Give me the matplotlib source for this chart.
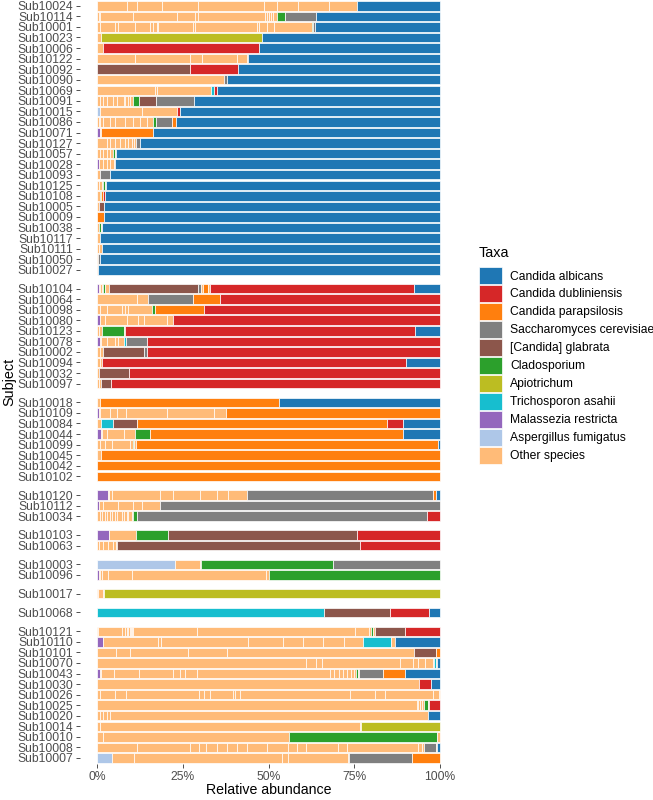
import matplotlib.pyplot as plt
from matplotlib.patches import Patch

plt.rcParams['font.family'] = ['Liberation Sans', 'DejaVu Sans']

taxa_codes = ['alb', 'dub', 'par', 'sac', 'gla', 'cla', 'api', 'tri', 'mal', 'asp', 'oth']
taxa_names = ['Candida albicans', 'Candida dubliniensis', 'Candida parapsilosis',
              'Saccharomyces cerevisiae', '[Candida] glabrata', 'Cladosporium',
              'Apiotrichum', 'Trichosporon asahii', 'Malassezia restricta',
              'Aspergillus fumigatus', 'Other species']
taxa_colors = ['#1F77B4', '#D62728', '#FF7F0E', '#7F7F7F', '#8C564B', '#2CA02C',
               '#BCBD22', '#17BECF', '#9467BD', '#AEC7E8', '#FFBB78']

# segments left -> right, values in % ("oth" = single species lumped as Other species)
group_albicans = [
    ('Sub10024', [('oth', 8.8), ('oth', 2.9), ('oth', 7.3), ('oth', 10.5), ('oth', 19.1), ('oth', 3.9),
                  ('oth', 6.1), ('oth', 9.0), ('oth', 8.1), ('alb', 24.3)]),
    ('Sub10114', [('oth', 0.6), ('oth', 0.3), ('oth', 9.7), ('oth', 12.7), ('oth', 5.3), ('oth', 0.9),
                  ('oth', 19.5), ('oth', 0.6), ('oth', 0.6), ('oth', 0.6), ('oth', 0.6), ('oth', 1.1),
                  ('cla', 2.3), ('sac', 9.0), ('alb', 36.2)]),
    ('Sub10001', [('oth', 0.9), ('oth', 4.4), ('oth', 0.9), ('oth', 4.9), ('oth', 4.4), ('oth', 0.9),
                  ('oth', 1.0), ('oth', 0.5), ('oth', 10.2), ('oth', 0.5), ('oth', 18.0), ('oth', 0.5),
                  ('oth', 2.4), ('oth', 2.0), ('oth', 11.1), ('cla', 0.5), ('sac', 0.6), ('alb', 36.3)]),
    ('Sub10023', [('oth', 1.1), ('api', 46.9), ('alb', 52.0)]),
    ('Sub10006', [('oth', 1.7), ('dub', 45.6), ('alb', 52.7)]),
    ('Sub10122', [('oth', 11.1), ('oth', 16.0), ('oth', 3.4), ('oth', 10.2), ('oth', 2.9), ('oth', 0.5),
                  ('alb', 55.9)]),
    ('Sub10092', [('gla', 27.0), ('dub', 14.0), ('alb', 59.0)]),
    ('Sub10090', [('oth', 37.0), ('sac', 0.9), ('alb', 62.1)]),
    ('Sub10069', [('oth', 16.9), ('oth', 0.5), ('oth', 15.8), ('tri', 0.9), ('dub', 0.9), ('alb', 65.0)]),
    ('Sub10091', [('oth', 0.9), ('oth', 0.9), ('oth', 1.0), ('oth', 1.9), ('oth', 1.0), ('oth', 2.0),
                  ('oth', 0.5), ('oth', 0.8), ('oth', 0.6), ('oth', 0.8), ('cla', 1.8), ('gla', 4.9),
                  ('sac', 11.2), ('alb', 71.7)]),
    ('Sub10015', [('asp', 0.8), ('oth', 12.2), ('oth', 10.2), ('dub', 0.9), ('alb', 75.9)]),
    ('Sub10086', [('oth', 0.4), ('oth', 0.5), ('oth', 0.9), ('oth', 2.0), ('oth', 1.4), ('oth', 3.0),
                  ('oth', 2.4), ('oth', 1.9), ('oth', 2.0), ('oth', 1.9), ('cla', 0.9), ('sac', 4.6),
                  ('par', 1.1), ('alb', 77.0)]),
    ('Sub10071', [('mal', 0.8), ('oth', 0.2), ('par', 15.2), ('alb', 83.8)]),
    ('Sub10127', [('oth', 2.8), ('oth', 1.0), ('oth', 1.4), ('oth', 1.5), ('oth', 1.5), ('oth', 0.9),
                  ('oth', 1.0), ('oth', 0.8), ('oth', 0.5), ('sac', 1.1), ('alb', 87.5)]),
    ('Sub10057', [('oth', 0.9), ('oth', 0.9), ('oth', 1.0), ('oth', 1.0), ('oth', 0.7), ('cla', 0.6),
                  ('oth', 0.3), ('alb', 94.6)]),
    ('Sub10028', [('mal', 0.6), ('oth', 1.0), ('oth', 1.2), ('oth', 1.0), ('oth', 1.0), ('oth', 0.3),
                  ('alb', 94.9)]),
    ('Sub10093', [('oth', 0.8), ('sac', 3.0), ('alb', 96.2)]),
    ('Sub10125', [('oth', 0.6), ('oth', 0.8), ('oth', 0.3), ('cla', 0.5), ('oth', 0.4), ('alb', 97.4)]),
    ('Sub10108', [('oth', 0.8), ('cla', 0.4), ('par', 0.6), ('dub', 0.6), ('alb', 97.6)]),
    ('Sub10005', [('oth', 0.4), ('gla', 1.6), ('alb', 98.0)]),
    ('Sub10009', [('par', 1.9), ('alb', 98.1)]),
    ('Sub10038', [('oth', 0.6), ('cla', 0.4), ('oth', 0.3), ('alb', 98.7)]),
    ('Sub10117', [('oth', 0.9), ('alb', 99.1)]),
    ('Sub10111', [('oth', 0.6), ('oth', 0.8), ('alb', 98.6)]),
    ('Sub10050', [('oth', 0.3), ('sac', 0.6), ('alb', 99.1)]),
    ('Sub10027', [('oth', 0.2), ('alb', 99.8)]),
]

group_dubliniensis = [
    ('Sub10104', [('mal', 0.5), ('oth', 0.3), ('oth', 0.6), ('oth', 0.2), ('cla', 0.6), ('oth', 1.3),
                  ('gla', 26.0), ('sac', 0.8), ('oth', 0.6), ('par', 1.4), ('oth', 0.7), ('dub', 59.5),
                  ('alb', 7.5)]),
    ('Sub10064', [('oth', 11.6), ('oth', 3.3), ('sac', 13.2), ('par', 7.8), ('dub', 64.1)]),
    ('Sub10098', [('oth', 0.9), ('oth', 1.9), ('oth', 4.4), ('oth', 1.0), ('oth', 0.9), ('oth', 6.8),
                  ('cla', 0.9), ('par', 14.4), ('dub', 68.8)]),
    ('Sub10080', [('mal', 0.7), ('oth', 1.6), ('oth', 6.4), ('oth', 3.3), ('oth', 1.7), ('oth', 6.6),
                  ('oth', 1.9), ('dub', 77.8)]),
    ('Sub10123', [('oth', 0.5), ('oth', 0.8), ('cla', 6.5), ('oth', 0.3), ('dub', 84.6), ('alb', 7.3)]),
    ('Sub10078', [('mal', 0.7), ('oth', 0.5), ('oth', 1.8), ('oth', 2.2), ('oth', 1.0), ('oth', 1.5),
                  ('tri', 0.6), ('sac', 6.3), ('dub', 85.4)]),
    ('Sub10002', [('oth', 0.8), ('oth', 1.0), ('gla', 11.9), ('sac', 0.8), ('dub', 85.5)]),
    ('Sub10094', [('oth', 0.9), ('oth', 0.6), ('dub', 88.6), ('alb', 9.9)]),
    ('Sub10032', [('oth', 0.6), ('gla', 8.6), ('dub', 90.8)]),
    ('Sub10097', [('oth', 0.6), ('oth', 0.6), ('gla', 2.8), ('dub', 96.0)]),
]

group_parapsilosis = [
    ('Sub10018', [('oth', 0.9), ('par', 52.3), ('alb', 46.8)]),
    ('Sub10109', [('mal', 0.6), ('oth', 0.3), ('oth', 2.9), ('oth', 2.1), ('oth', 2.6), ('oth', 11.8),
                  ('oth', 13.8), ('oth', 3.4), ('par', 62.5)]),
    ('Sub10084', [('oth', 1.0), ('tri', 3.6), ('gla', 7.0), ('par', 73.0), ('dub', 4.7), ('alb', 10.7)]),
    ('Sub10044', [('mal', 1.0), ('oth', 0.4), ('oth', 1.4), ('oth', 5.1), ('oth', 3.2), ('cla', 4.3),
                  ('par', 73.7), ('alb', 10.9)]),
    ('Sub10099', [('oth', 0.7), ('oth', 1.6), ('oth', 2.0), ('oth', 5.3), ('oth', 1.0), ('cla', 0.3),
                  ('oth', 0.4), ('par', 88.3), ('alb', 0.4)]),
    ('Sub10045', [('oth', 1.2), ('par', 98.8)]),
    ('Sub10042', [('par', 100.0)]),
    ('Sub10102', [('par', 100.0)]),
]

group_saccharomyces = [
    ('Sub10120', [('mal', 3.3), ('oth', 0.3), ('oth', 0.7), ('oth', 13.9), ('oth', 3.8), ('oth', 8.0),
                  ('oth', 4.9), ('oth', 3.4), ('oth', 5.5), ('sac', 54.3), ('par', 0.9), ('alb', 1.0)]),
    ('Sub10112', [('mal', 0.5), ('oth', 1.3), ('oth', 4.4), ('oth', 4.4), ('oth', 2.4), ('oth', 5.2),
                  ('sac', 81.8)]),
    ('Sub10034', [('oth', 0.9), ('oth', 0.5), ('oth', 0.9), ('oth', 0.5), ('oth', 1.0), ('oth', 0.5),
                  ('oth', 0.9), ('oth', 0.5), ('oth', 1.5), ('oth', 0.7), ('oth', 0.8), ('oth', 0.4),
                  ('oth', 1.0), ('oth', 0.3), ('cla', 1.1), ('sac', 84.8), ('dub', 3.7)]),
]

group_glabrata = [
    ('Sub10103', [('mal', 3.4), ('oth', 7.9), ('cla', 9.5), ('gla', 55.0), ('dub', 24.2)]),
    ('Sub10063', [('oth', 0.6), ('oth', 1.2), ('oth', 1.5), ('oth', 1.3), ('oth', 0.9), ('oth', 0.4),
                  ('gla', 70.8), ('dub', 23.3)]),
]

group_cladosporium = [
    ('Sub10003', [('asp', 22.7), ('oth', 7.3), ('oth', 0.4), ('cla', 38.3), ('sac', 31.3)]),
    ('Sub10096', [('mal', 0.5), ('oth', 0.2), ('oth', 0.8), ('oth', 1.8), ('oth', 6.8), ('oth', 39.2),
                  ('oth', 0.7), ('cla', 50.0)]),
]

group_apiotrichum = [
    ('Sub10017', [('oth', 0.3), ('oth', 1.4), ('oth', 0.3), ('api', 98.0)]),
]

group_trichosporon = [
    ('Sub10068', [('tri', 66.1), ('gla', 19.3), ('dub', 11.5), ('alb', 3.1)]),
]

group_other = [
    ('Sub10121', [('oth', 0.3), ('oth', 6.9), ('oth', 1.0), ('oth', 0.5), ('oth', 0.4), ('oth', 0.5),
                  ('oth', 0.2), ('oth', 0.5), ('oth', 0.3), ('oth', 18.5), ('oth', 46.1), ('oth', 4.1),
                  ('oth', 0.5), ('cla', 0.8), ('oth', 0.4), ('gla', 8.9), ('dub', 10.1)]),
    ('Sub10110', [('mal', 1.7), ('oth', 16.0), ('oth', 1.0), ('oth', 25.2), ('oth', 10.2), ('oth', 5.9),
                  ('oth', 5.8), ('oth', 6.2), ('oth', 5.5), ('tri', 8.2), ('oth', 1.1), ('alb', 13.2)]),
    ('Sub10101', [('oth', 5.6), ('oth', 4.0), ('oth', 16.9), ('oth', 11.4), ('oth', 54.5), ('gla', 6.6),
                  ('par', 1.0)]),
    ('Sub10070', [('oth', 60.8), ('oth', 3.1), ('oth', 1.8), ('oth', 22.6), ('oth', 4.0), ('oth', 1.4),
                  ('oth', 1.9), ('oth', 2.4), ('oth', 0.3), ('tri', 0.5), ('oth', 0.3), ('alb', 0.9)]),
    ('Sub10043', [('mal', 0.7), ('oth', 0.4), ('oth', 3.7), ('oth', 7.3), ('oth', 10.1), ('oth', 2.0),
                  ('oth', 1.5), ('oth', 3.4), ('oth', 38.8), ('oth', 1.2), ('oth', 1.5), ('oth', 1.0),
                  ('oth', 1.2), ('oth', 1.2), ('oth', 1.0), ('oth', 0.5), ('cla', 0.6), ('oth', 0.3),
                  ('sac', 7.0), ('par', 6.4), ('alb', 10.2)]),
    ('Sub10030', [('oth', 93.9), ('dub', 3.4), ('alb', 2.7)]),
    ('Sub10026', [('oth', 0.9), ('oth', 4.3), ('oth', 3.3), ('oth', 21.2), ('oth', 1.5), ('oth', 1.7),
                  ('oth', 6.7), ('oth', 0.6), ('oth', 1.5), ('oth', 32.1), ('oth', 7.2), ('oth', 2.9),
                  ('oth', 14.1), ('oth', 1.8), ('oth', 0.2)]),
    ('Sub10025', [('oth', 93.2), ('oth', 0.5), ('oth', 0.5), ('oth', 0.5), ('oth', 0.7), ('cla', 1.0),
                  ('oth', 0.3), ('dub', 3.3)]),
    ('Sub10020', [('oth', 0.9), ('oth', 0.9), ('oth', 1.0), ('oth', 1.0), ('oth', 92.6), ('alb', 3.6)]),
    ('Sub10014', [('oth', 0.7), ('oth', 76.0), ('oth', 0.4), ('api', 22.9)]),
    ('Sub10010', [('oth', 1.6), ('oth', 54.5), ('cla', 43.2), ('oth', 0.7)]),
    ('Sub10008', [('oth', 11.6), ('oth', 15.5), ('oth', 2.7), ('oth', 2.0), ('oth', 3.3), ('oth', 2.7),
                  ('oth', 2.9), ('oth', 3.1), ('oth', 5.7), ('oth', 6.3), ('oth', 2.4), ('oth', 2.7),
                  ('oth', 9.4), ('oth', 2.5), ('oth', 20.9), ('oth', 1.2), ('oth', 0.4), ('sac', 3.7),
                  ('oth', 0.3), ('alb', 0.7)]),
    ('Sub10007', [('asp', 4.3), ('oth', 6.6), ('oth', 42.9), ('oth', 2.0), ('oth', 17.3), ('oth', 0.4),
                  ('sac', 18.3), ('par', 8.2)]),
]

groups = [group_albicans, group_dubliniensis, group_parapsilosis, group_saccharomyces,
          group_glabrata, group_cladosporium, group_apiotrichum, group_trichosporon, group_other]

color_of = dict(zip(taxa_codes, taxa_colors))
group_gap = 0.78

fig = plt.figure(figsize=(6.53, 8.0), dpi=100)
ax_bottom = 764.3
ax = fig.add_axes([80 / 653, 1 - ax_bottom / 800, 377 / 653, ax_bottom / 800])

ypos, ylabels = [], []
y = 0.0
for gi, grp in enumerate(groups):
    if gi > 0:
        y += group_gap
    for subj, segs in grp:
        total = sum(v for _, v in segs)
        left = 0.0
        for code, v in segs:
            w = v / total * 100
            ax.barh(y, w, left=left, height=0.9, color=color_of[code],
                    edgecolor='white', linewidth=0.5)
            left += w
        ypos.append(y)
        ylabels.append(subj)
        y += 1
last = ypos[-1]

ax.set_xlim(-5, 105)
ax.set_ylim(last + 0.6, -0.55)
ax.set_yticks(ypos)
ax.set_yticklabels(ylabels)
ax.set_xticks([0, 25, 50, 75, 100])
ax.set_xticklabels(['0%', '25%', '50%', '75%', '100%'])
ax.tick_params(axis='both', labelsize=8.7, labelcolor='#4D4D4D', color='#333333',
               length=2.9, width=0.6, pad=2.2)
ax.tick_params(axis='x', pad=1.6)
for s in ax.spines.values():
    s.set_visible(False)

ax.set_xlabel('Relative abundance', fontsize=10.2)
ax.xaxis.set_label_coords(0.5, -(783.0 - ax_bottom) / ax_bottom)
ax.set_ylabel('Subject', fontsize=10.4)
ax.yaxis.set_label_coords((16 - 80) / 377, 0.5)

handles = [Patch(facecolor=c, edgecolor='white', linewidth=0.5) for c in taxa_colors]
fs = 8.7
px = fs * 100 / 72
fig.legend(handles, taxa_names, loc='upper left', bbox_to_anchor=(479 / 653, 1 - 267 / 800),
           frameon=False, fontsize=fs, borderpad=0, borderaxespad=0,
           handlelength=23 / px, handleheight=22 / px, handletextpad=8 / px,
           labelspacing=0.7 / px)
fig.text(479 / 653, 1 - 253 / 800, 'Taxa', fontsize=10.4, va='center', ha='left')

plt.savefig('out.png', dpi=100)
